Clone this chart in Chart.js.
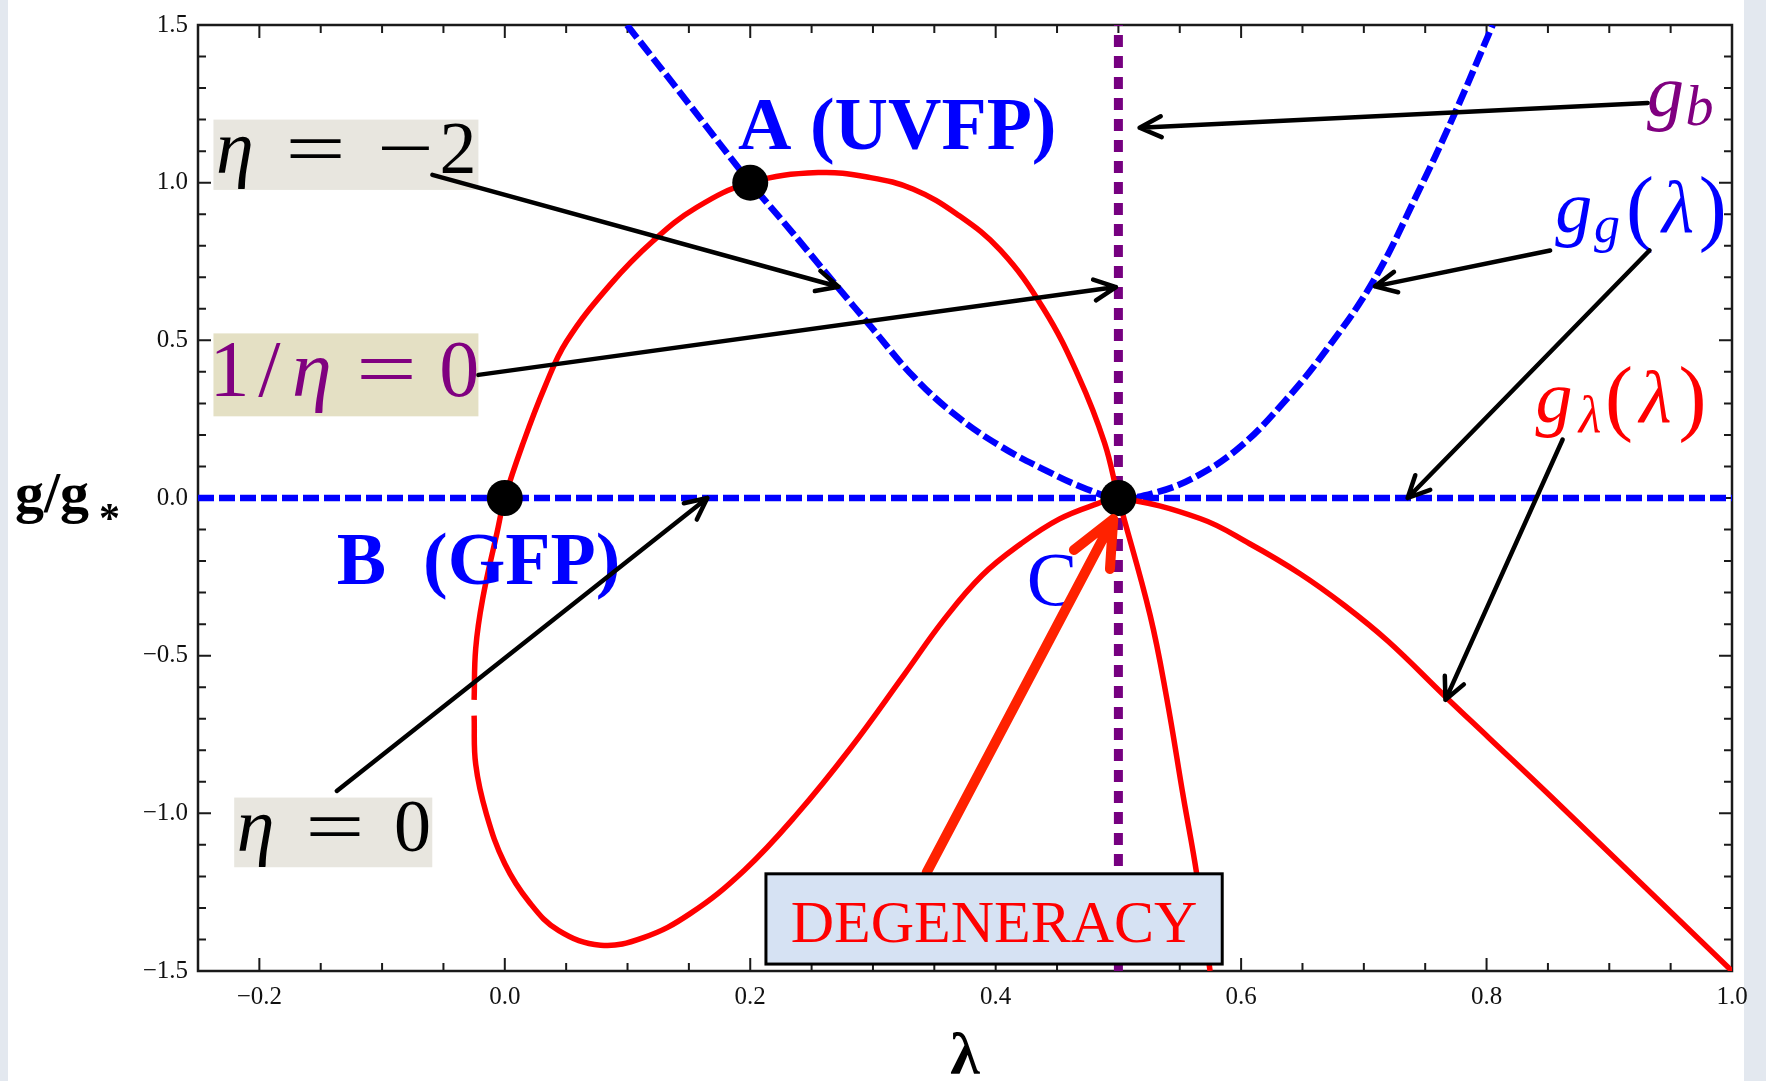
<!DOCTYPE html>
<html>
<head>
<meta charset="utf-8">
<script src="https://cdn.jsdelivr.net/npm/chart.js@4.4.1/dist/chart.umd.min.js"></script>
<style>
  html, body { margin: 0; padding: 0; }
  body { width: 1766px; height: 1081px; background: #e3e8ef; position: relative; overflow: hidden; }
  #sheet { position: absolute; left: 8px; top: 0; width: 1736px; height: 1081px; background: #fff; }
  #plot { position: absolute; left: 0; top: 0; }
</style>
</head>
<body>
<div id="sheet"></div>
<canvas id="plot" width="1766" height="1081"></canvas>
<script>
// g_g(lambda): both branches of the blue dashed curve, touching zero at C
const ggLam = [0.0996, 0.150, 0.200, 0.233, 0.271, 0.298, 0.333, 0.3685, 0.404, 0.439, 0.4744, 0.500, 0.533, 0.5665, 0.600, 0.634, 0.6695, 0.708, 0.743, 0.7724, 0.805];
const ggVal = [1.500, 1.250, 1.000, 0.848, 0.670, 0.545, 0.385, 0.259, 0.164, 0.091, 0.028, 0.000, 0.020, 0.075, 0.165, 0.300, 0.470, 0.690, 0.960, 1.205, 1.500];

// g_lambda(lambda), upper part: from the small break near lambda=-0.025 up through B, over A, down through C
const glUpperLam = [-0.0250, -0.0237, -0.0180, -0.0063, 0.000, 0.015, 0.0328, 0.0504, 0.0857, 0.121, 0.1565, 0.200, 0.2554, 0.298, 0.333, 0.3685, 0.404, 0.439, 0.4675, 0.4887, 0.500, 0.5258, 0.5394, 0.553, 0.5638, 0.5747];
const glUpperVal = [-0.640, -0.477, -0.319, -0.109, 0.000, 0.175, 0.354, 0.497, 0.676, 0.816, 0.922, 1.000, 1.032, 1.016, 0.979, 0.900, 0.785, 0.600, 0.386, 0.175, 0.000, -0.371, -0.635, -0.950, -1.192, -1.500];

// g_lambda(lambda), lower part: the loop below B, up to C and the descending tail
const glLowerLam = [-0.0250, -0.0237, -0.015, 0.000, 0.020, 0.044, 0.078, 0.113, 0.151, 0.195, 0.238, 0.282, 0.3255, 0.358, 0.389, 0.4206, 0.4517, 0.483, 0.500, 0.5665, 0.607, 0.648, 0.684, 0.720, 0.7665, 0.8018, 0.852, 1.000];
const glLowerVal = [-0.690, -0.845, -1.002, -1.160, -1.282, -1.372, -1.418, -1.394, -1.318, -1.181, -1.003, -0.792, -0.560, -0.385, -0.245, -0.145, -0.067, -0.018, 0.000, -0.065, -0.145, -0.240, -0.340, -0.455, -0.630, -0.760, -0.945, -1.500];

// g_b: vertical line at lambda = 1/2, and the g = 0 line
const gbLam = [0.5, 0.5];
const gbVal = [-1.5, 1.5];
const zeroLam = [-0.25, 1.0];
const zeroVal = [0, 0];

// fixed points A (UVFP), B (GFP), C
const fpName = ['A', 'B', 'C'];
const fpLam = [0.2, 0.0, 0.5];
const fpVal = [1.0, 0.0, 0.0];

// axis ticks
const xTicks = [-0.2, 0.0, 0.2, 0.4, 0.6, 0.8, 1.0];
const yTicks = [-1.5, -1.0, -0.5, 0.0, 0.5, 1.0, 1.5];

const pts = (xs, ys) => xs.map((v, i) => ({ x: v, y: ys[i] }));
const fmt = v => (v < 0 ? '\u2212' : '') + Math.abs(v).toFixed(1);

const SERIF = '"Liberation Serif", "Times New Roman", serif';

function arrow(ctx, x1, y1, x2, y2, color, width, head, spread) {
  const ang = Math.atan2(y2 - y1, x2 - x1);
  ctx.save();
  ctx.strokeStyle = color;
  ctx.lineWidth = width;
  ctx.lineCap = 'round';
  ctx.lineJoin = 'round';
  ctx.beginPath();
  ctx.moveTo(x1, y1);
  ctx.lineTo(x2, y2);
  ctx.moveTo(x2 - head * Math.cos(ang - spread), y2 - head * Math.sin(ang - spread));
  ctx.lineTo(x2, y2);
  ctx.lineTo(x2 - head * Math.cos(ang + spread), y2 - head * Math.sin(ang + spread));
  ctx.stroke();
  ctx.restore();
}

// lay out a formula piece by piece: cx = glyph centre, by = baseline shift, sx = horizontal stretch
function pieces(ctx, x0, y0, list, color) {
  ctx.save();
  ctx.fillStyle = color;
  ctx.textAlign = 'center';
  ctx.textBaseline = 'alphabetic';
  list.forEach(p => {
    ctx.save();
    ctx.font = p.f;
    ctx.translate(x0 + p.cx, y0 + (p.by || 0));
    ctx.scale(p.sx || 1, 1);
    ctx.fillText(p.t, 0, 0);
    ctx.restore();
  });
  ctx.restore();
}

const it = s => 'italic ' + s + 'px ' + SERIF;
const rm = s => s + 'px ' + SERIF;

// inward ticks on all four sides plus the frame
const framePlugin = {
  id: 'frame',
  beforeDatasetsDraw(chart) {
    const { ctx, chartArea: a, scales: { x, y } } = chart;
    ctx.save();
    ctx.strokeStyle = '#1a1a1a';
    ctx.lineWidth = 2;
    ctx.beginPath();
    for (let k = -4; k <= 20; k++) {
      const px = x.getPixelForValue(k * 0.05);
      const len = k % 4 === 0 ? 13 : 8;
      ctx.moveTo(px, a.bottom); ctx.lineTo(px, a.bottom - len);
      ctx.moveTo(px, a.top); ctx.lineTo(px, a.top + len);
    }
    for (let k = -15; k <= 15; k++) {
      const py = y.getPixelForValue(k * 0.1);
      const len = k % 5 === 0 ? 13 : 8;
      ctx.moveTo(a.left, py); ctx.lineTo(a.left + len, py);
      ctx.moveTo(a.right, py); ctx.lineTo(a.right - len, py);
    }
    ctx.stroke();
    ctx.lineWidth = 2.5;
    ctx.strokeRect(a.left, a.top, a.right - a.left, a.bottom - a.top);
    ctx.restore();
  }
};

const notesPlugin = {
  id: 'notes',
  afterDatasetsDraw(chart) {
    const { ctx, chartArea: a, scales: { x, y } } = chart;
    const X = v => x.getPixelForValue(v);
    const Y = v => y.getPixelForValue(v);

    // shaded formula boxes
    const box = (l, t, r, b, fill) => {
      ctx.fillStyle = fill;
      ctx.fillRect(X(l), Y(t), X(r) - X(l), Y(b) - Y(t));
    };
    box(-0.2374, 1.200, -0.0215, 0.977, '#e8e6df');
    pieces(ctx, X(-0.2374), Y(1.200), [
      { t: '\u03b7', f: it(76), cx: 21.5, by: 53 },
      { t: '=', f: rm(74), cx: 102, by: 53, sx: 1.45 },
      { t: '\u2212', f: rm(74), cx: 192, by: 53, sx: 1.36 },
      { t: '2', f: rm(74), cx: 244.5, by: 53 }
    ], '#000');

    box(-0.2374, 0.522, -0.0215, 0.259, '#e4e0c4');
    pieces(ctx, X(-0.2374), Y(0.522), [
      { t: '1', f: rm(80), cx: 16, by: 63 },
      { t: '/', f: rm(80), cx: 56, by: 63 },
      { t: '\u03b7', f: it(80), cx: 98.5, by: 63 },
      { t: '=', f: rm(80), cx: 173, by: 63, sx: 1.35 },
      { t: '0', f: rm(80), cx: 245.8, by: 63 }
    ], '#800080');

    box(-0.2205, -0.950, -0.0591, -1.171, '#e8e6df');
    pieces(ctx, X(-0.2205), Y(-0.950), [
      { t: '\u03b7', f: it(76), cx: 21.3, by: 53 },
      { t: '=', f: rm(74), cx: 100.8, by: 53, sx: 1.42 },
      { t: '0', f: rm(74), cx: 178.2, by: 53 }
    ], '#000');

    // fixed point names
    ctx.save();
    ctx.textBaseline = 'alphabetic';
    ctx.textAlign = 'left';
    ctx.fillStyle = '#0000ff';
    ctx.font = 'bold 74px ' + SERIF;
    ctx.fillText('A (UVFP)', X(0.190), Y(1.106));
    ctx.fillText('B  (GFP)', X(-0.137), Y(-0.272));
    ctx.font = rm(76);
    ctx.fillText('C', X(0.4253), Y(-0.340));
    ctx.restore();

    // curve names
    pieces(ctx, X(0.9328), Y(1.210), [
      { t: 'g', f: it(74), cx: 16, by: 0 },
      { t: 'b', f: it(56), cx: 50, by: 9 }
    ], '#800080');
    pieces(ctx, X(0.8563), Y(0.844), [
      { t: 'g', f: it(74), cx: 18, by: 0 },
      { t: 'g', f: it(52), cx: 51.4, by: 10 },
      { t: '(', f: rm(84), cx: 84.4, by: 3 },
      { t: '\u03bb', f: it(74), cx: 122.4, by: 0 },
      { t: ')', f: rm(84), cx: 157, by: 3 }
    ], '#0000ff');
    pieces(ctx, X(0.8387), Y(0.2413), [
      { t: 'g', f: it(74), cx: 20, by: 0 },
      { t: '\u03bb', f: it(52), cx: 56, by: 10 },
      { t: '(', f: rm(84), cx: 85, by: 3 },
      { t: '\u03bb', f: it(74), cx: 121.5, by: 0 },
      { t: ')', f: rm(84), cx: 158.5, by: 3 }
    ], '#ff0000');

    // pointer arrows
    const black = [
      [-0.0590, 1.0246, 0.2719, 0.670],
      [-0.0215, 0.3905, 0.498, 0.669],
      [0.9313, 1.253, 0.5173, 1.174],
      [0.8518, 0.785, 0.709, 0.671],
      [0.9327, 0.785, 0.7357, 0.0],
      [0.862, 0.1855, 0.7665, -0.640],
      [-0.1369, -0.929, 0.165, 0.0]
    ];
    black.forEach(r => arrow(ctx, X(r[0]), Y(r[1]), X(r[2]), Y(r[3]), '#000', 4.5, 24, 0.45));
    arrow(ctx, X(0.3438), Y(-1.187), X(0.4958), Y(-0.067), '#ff2200', 10, 50, 0.42);

    // degeneracy box
    const l = X(0.2128), t = Y(-1.1918), r = X(0.5846), b = Y(-1.478);
    ctx.save();
    ctx.fillStyle = '#d6e2f3';
    ctx.fillRect(l, t, r - l, b - t);
    ctx.strokeStyle = '#000';
    ctx.lineWidth = 3;
    ctx.strokeRect(l, t, r - l, b - t);
    ctx.fillStyle = '#ff0000';
    ctx.font = rm(60);
    ctx.textAlign = 'center';
    ctx.textBaseline = 'alphabetic';
    ctx.fillText('DEGENERACY', (l + r) / 2, Y(-1.4075));
    ctx.restore();

    // axis titles
    ctx.save();
    ctx.fillStyle = '#000';
    ctx.textBaseline = 'alphabetic';
    ctx.textAlign = 'left';
    ctx.font = 'bold 58px ' + SERIF;
    const base = Y(0) + 14;
    ctx.fillText('g/g', 15, base);
    ctx.font = 'bold 42px ' + SERIF;
    ctx.fillText('*', 99, base + 20);
    ctx.textAlign = 'center';
    ctx.font = 'bold 60px ' + SERIF;
    ctx.fillText('\u03bb', (a.left + a.right) / 2, 1074);
    ctx.restore();
  }
};

new Chart(document.getElementById('plot'), {
  type: 'line',
  data: {
    datasets: [
      {
        label: 'fixed points',
        data: pts(fpLam, fpVal),
        showLine: false,
        pointRadius: 18,
        pointBackgroundColor: '#000',
        pointBorderWidth: 0,
        order: 0
      },
      {
        label: 'g_lambda upper',
        data: pts(glUpperLam, glUpperVal),
        borderColor: '#ff0000',
        borderWidth: 5.5,
        tension: 0.4,
        pointRadius: 0,
        order: 1
      },
      {
        label: 'g_lambda lower',
        data: pts(glLowerLam, glLowerVal),
        borderColor: '#ff0000',
        borderWidth: 5.5,
        tension: 0.4,
        pointRadius: 0,
        order: 1
      },
      {
        label: 'g_b',
        data: pts(gbLam, gbVal),
        borderColor: '#760080',
        borderWidth: 9,
        borderDash: [12, 9],
        pointRadius: 0,
        order: 2
      },
      {
        label: 'g_g',
        data: pts(ggLam, ggVal),
        borderColor: '#0000ff',
        borderWidth: 6.5,
        borderDash: [16, 5],
        tension: 0.4,
        pointRadius: 0,
        order: 3
      },
      {
        label: 'g = 0',
        data: pts(zeroLam, zeroVal),
        borderColor: '#0000ff',
        borderWidth: 6.5,
        borderDash: [16, 5],
        pointRadius: 0,
        order: 3
      }
    ]
  },
  options: {
    responsive: false,
    animation: false,
    events: [],
    layout: { padding: { left: 0, right: 34, top: 20, bottom: 0 } },
    plugins: {
      legend: { display: false },
      tooltip: { enabled: false }
    },
    scales: {
      x: {
        type: 'linear',
        position: 'bottom',
        min: -0.25,
        max: 1.0,
        grid: { display: false, drawTicks: false },
        border: { display: false },
        afterBuildTicks: s => { s.ticks = xTicks.map(v => ({ value: v })); },
        afterFit: s => { s.height = 110; },
        ticks: {
          padding: 11,
          color: '#111',
          font: { family: SERIF, size: 25 },
          maxRotation: 0,
          autoSkip: false,
          callback: v => fmt(v)
        }
      },
      y: {
        type: 'linear',
        min: -1.5,
        max: 1.5,
        grid: { display: false, drawTicks: false },
        border: { display: false },
        afterBuildTicks: s => { s.ticks = yTicks.map(v => ({ value: v })); },
        afterFit: s => { s.width = 198; },
        ticks: {
          padding: 10,
          color: '#111',
          font: { family: SERIF, size: 25 },
          autoSkip: false,
          callback: v => fmt(v)
        }
      }
    }
  },
  plugins: [framePlugin, notesPlugin]
});
</script>
</body>
</html>
